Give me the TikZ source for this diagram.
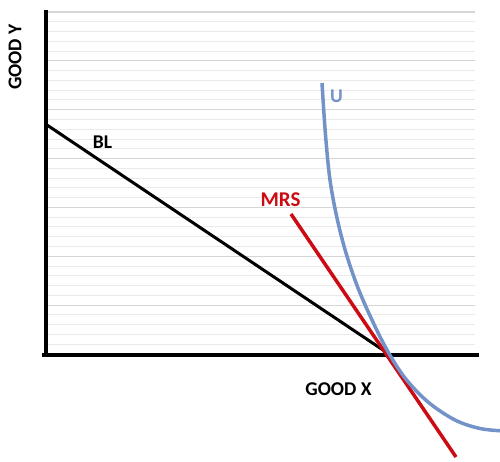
\documentclass[tikz,border=0pt]{standalone}
\usepackage{fontspec}
\setmainfont{Carlito}
\definecolor{ublue}{RGB}{114,146,200}
\definecolor{mred}{RGB}{204,12,18}
\definecolor{gmajor}{RGB}{214,214,214}
\definecolor{gminor}{RGB}{234,234,234}
\tikzset{
  lbl/.style={font=\bfseries\fontsize{19.5}{19.5}\selectfont, inner sep=0pt},
  axisline/.style={line width=4pt, black},
  gridmajor/.style={line width=1.1pt, gmajor},
  gridminor/.style={line width=1pt, gminor}
}
\begin{document}
\begin{tikzpicture}[x=1pt,y=-1pt]
\useasboundingbox (0,0) rectangle (500,461);
% grid
\foreach \i in {0,...,34}{
  \pgfmathsetmacro{\yy}{12+9.7714*\i}
  \pgfmathtruncatemacro{\m}{mod(\i,5)}
  \ifnum\m=0
    \draw[gridmajor] (48,\yy) -- (475,\yy);
  \else
    \draw[gridminor] (48,\yy) -- (475,\yy);
  \fi
}
% axes
\coordinate (ytop) at (45.5,10);
\coordinate (ybot) at (45.5,356.5);
\coordinate (xend) at (479,354.5);
\coordinate (xstart) at (42,354.5);
\draw[axisline] (ytop) -- (ybot);
\draw[axisline] (xstart) -- (xend);
% budget line
\coordinate (bl1) at (47,125);
\coordinate (bl2) at (386,352);
\draw[line width=3pt, black] (bl1) -- (bl2);
% MRS line
\coordinate (m1) at (291,214);
\coordinate (m2) at (456,457);
\draw[line width=3.5pt, mred] (m1) -- (m2);
% U curve
\begin{scope}
\clip (0,0) rectangle (500,461);
\draw[line width=3.5pt, ublue] plot[smooth, tension=0.55] coordinates {
 (322,83) (325.5,135) (330,180) (337,218) (346,253) (358,288) (372,320) (387,350) (405,378) (428,402) (455,420) (480,428.5) (504,431)};
\end{scope}
% labels
\node[lbl, rotate=90] (gy) at (15,57) {GOOD Y};
\node[lbl] (gx) at (338.5,389) {GOOD X};
\node[lbl] (blt) at (102.5,142.5) {BL};
\node[lbl, mred, font=\bfseries\fontsize{21}{21}\selectfont] (mrst) at (280.5,199.5) {MRS};
\node[lbl, ublue] (ut) at (336.5,96) {U};
\end{tikzpicture}
\end{document}
